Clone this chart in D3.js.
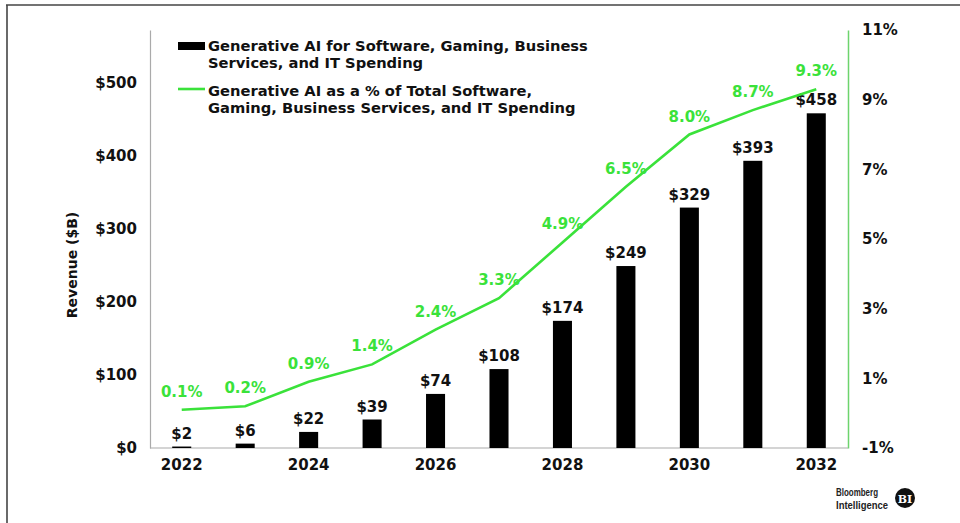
<!DOCTYPE html>
<html>
<head>
<meta charset="utf-8">
<script src="https://cdn.jsdelivr.net/npm/d3@7"></script>
<style>
  html, body { margin: 0; padding: 0; background: #fff; }
  svg { display: block; }
  text { font-family: "DejaVu Sans", Verdana, sans-serif; font-weight: bold; }
</style>
</head>
<body>
<svg id="chart" width="960" height="523"></svg>
<script>
// Generative AI revenue ($B) and share of total spending (%), 2022–2032
const years = [2022, 2023, 2024, 2025, 2026, 2027, 2028, 2029, 2030, 2031, 2032];
const revenue = [2, 6, 22, 39, 74, 108, 174, 249, 329, 393, 458];
const sharePct = [0.1, 0.2, 0.9, 1.4, 2.4, 3.3, 4.9, 6.5, 8.0, 8.7, 9.3];
const leftTicks = [0, 100, 200, 300, 400, 500];
const rightTicks = [-1, 1, 3, 5, 7, 9, 11];
const xTickYears = [2022, 2024, 2026, 2028, 2030, 2032];
const legendLabels = [
  ["Generative AI for Software, Gaming, Business", "Services, and IT Spending"],
  ["Generative AI as a % of Total Software,", "Gaming, Business Services, and IT Spending"]
];

const green = "#3ae23a";
const ink = "#111";

const svg = d3.select("#chart");
const plot = { left: 150, right: 848, top: 30, bottom: 448 };

const x = d3.scaleBand().domain(years).range([plot.left, plot.right])
  .paddingInner(0.7).paddingOuter(0.35);
const yL = d3.scaleLinear().domain([0, 572]).range([plot.bottom, plot.top]);
const yR = d3.scaleLinear().domain([-1, 11]).range([plot.bottom, plot.top]);

// frame lines
svg.append("line").attr("x1", 6).attr("x2", 960).attr("y1", 5).attr("y2", 5)
  .attr("stroke", "#444").attr("stroke-width", 1.6);
svg.append("line").attr("x1", 7).attr("x2", 7).attr("y1", 5).attr("y2", 523)
  .attr("stroke", "#444").attr("stroke-width", 1.6);

// axes
const styleTicks = g => g.selectAll("text").attr("font-size", 15).attr("fill", ink)
  .style("font-family", "'DejaVu Sans', sans-serif").style("font-weight", "bold");

const leftAxis = svg.append("g").attr("transform", `translate(${plot.left},0)`)
  .call(d3.axisLeft(yL).tickValues(leftTicks).tickSize(0).tickPadding(13)
    .tickFormat(d => "$" + d));
leftAxis.select(".domain").attr("stroke", "#aaa").attr("stroke-width", 1.2);
styleTicks(leftAxis);

const rightAxis = svg.append("g").attr("transform", `translate(${plot.right},0)`)
  .call(d3.axisRight(yR).tickValues(rightTicks).tickSize(0).tickPadding(14)
    .tickFormat(d => d + "%"));
rightAxis.select(".domain").attr("stroke", "#6dd46d").attr("stroke-width", 1.5);
styleTicks(rightAxis);

const bottomAxis = svg.append("g").attr("transform", `translate(0,${plot.bottom})`)
  .call(d3.axisBottom(x).tickValues(xTickYears).tickSize(0).tickPadding(11));
bottomAxis.select(".domain").attr("stroke", "#aaa").attr("stroke-width", 1.2)
  .attr("d", `M${plot.left},0H${plot.right}`);
styleTicks(bottomAxis);

// y-axis title
svg.append("text")
  .attr("transform", `translate(77,${(plot.top + plot.bottom) / 2 + 26}) rotate(-90)`)
  .attr("text-anchor", "middle").attr("font-size", 14).attr("fill", ink)
  .text("Revenue ($B)");

// bars
svg.append("g").selectAll("rect").data(years).join("rect")
  .attr("x", d => x(d))
  .attr("width", x.bandwidth())
  .attr("y", (d, i) => yL(revenue[i]))
  .attr("height", (d, i) => plot.bottom - yL(revenue[i]))
  .attr("fill", "#000");

// bar value labels
svg.append("g").selectAll("text").data(years).join("text")
  .attr("x", d => x(d) + x.bandwidth() / 2)
  .attr("y", (d, i) => yL(revenue[i]) - 8)
  .attr("text-anchor", "middle").attr("font-size", 15).attr("fill", ink)
  .text((d, i) => "$" + revenue[i]);

// share line
const cx = d => x(d) + x.bandwidth() / 2;
svg.append("path")
  .datum(years)
  .attr("fill", "none").attr("stroke", green).attr("stroke-width", 2.6)
  .attr("d", d3.line().x(d => cx(d)).y((d, i) => yR(sharePct[i])));

svg.append("g").selectAll("text").data(years).join("text")
  .attr("x", d => cx(d))
  .attr("y", (d, i) => yR(sharePct[i]) - 13)
  .attr("text-anchor", "middle").attr("font-size", 15).attr("fill", green)
  .text((d, i) => sharePct[i].toFixed(1) + "%");

// legend
const legend = svg.append("g");
legend.append("rect").attr("x", 178).attr("y", 42).attr("width", 27).attr("height", 8).attr("fill", "#000");
legend.append("line").attr("x1", 178).attr("x2", 205).attr("y1", 89).attr("y2", 89)
  .attr("stroke", green).attr("stroke-width", 2.6);
legendLabels.forEach((lines, k) => {
  lines.forEach((t, j) => {
    legend.append("text").attr("x", 208).attr("y", 51 + k * 45 + j * 17)
      .attr("font-size", 14.7).attr("fill", ink).text(t);
  });
});

// branding
const brand = svg.append("g")
  .style("font-family", "'Liberation Sans', Arial, sans-serif");
brand.append("text").attr("x", 836).attr("y", 496).attr("font-size", 10)
  .attr("textLength", 42).attr("lengthAdjust", "spacingAndGlyphs")
  .attr("fill", "#222").style("font-family", "'Liberation Sans', Arial, sans-serif")
  .text("Bloomberg");
brand.append("text").attr("x", 836).attr("y", 509).attr("font-size", 10)
  .attr("textLength", 52).attr("lengthAdjust", "spacingAndGlyphs")
  .attr("fill", "#222").style("font-family", "'Liberation Sans', Arial, sans-serif")
  .text("Intelligence");
brand.append("circle").attr("cx", 905).attr("cy", 498).attr("r", 10).attr("fill", "#111");
brand.append("text").attr("x", 905).attr("y", 502.5).attr("text-anchor", "middle")
  .attr("font-size", 11).attr("fill", "#fff")
  .style("font-family", "'DejaVu Serif', serif").text("BI");
</script>
</body>
</html>
